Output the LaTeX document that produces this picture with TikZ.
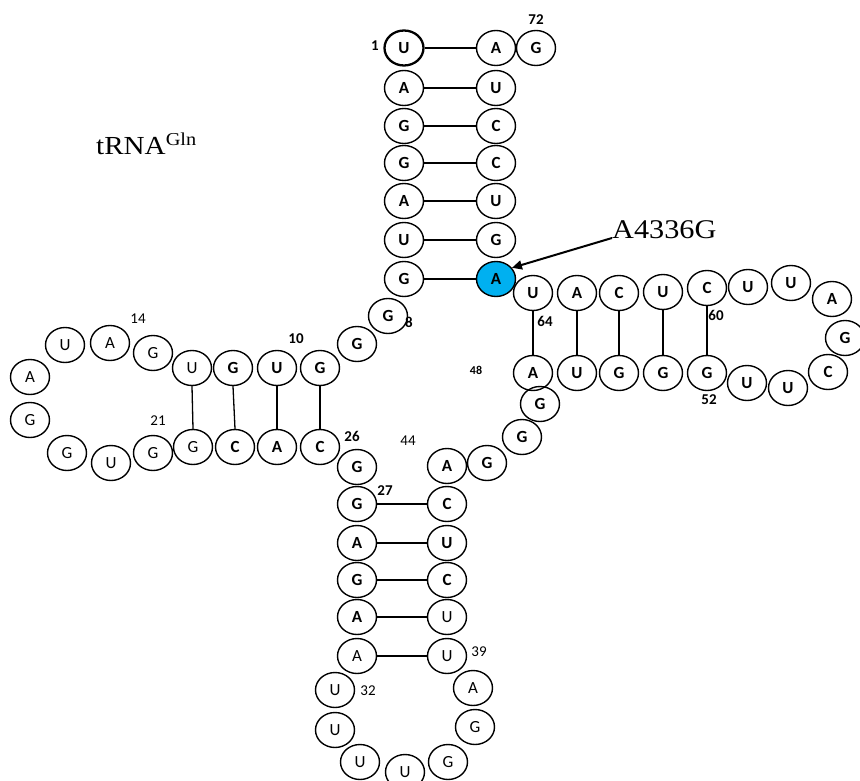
\documentclass[tikz,border=0pt]{standalone}
\usepackage{fontspec}
\setmainfont{Carlito}
\newfontfamily\tnrfont{Liberation Serif}[FakeStretch=1.12]
\usetikzlibrary{shapes.geometric,arrows.meta}
\newcommand\ntfont{\fontsize{17}{19}\selectfont}
\newcommand\lbfont{\fontsize{15}{17}\selectfont}
\definecolor{mutblue}{HTML}{00B0F0}
\begin{document}
\begin{tikzpicture}[x=1pt,y=-1pt,
  nt/.style={ellipse, draw, line width=1.4pt, minimum width=39pt, minimum height=35pt, inner sep=0pt, font=\ntfont},
  ntb/.style={nt, font=\ntfont\bfseries},
  num/.style={inner sep=0pt, font=\lbfont},
  numb/.style={inner sep=0pt, font=\lbfont\bfseries},
  bp/.style={line width=1.3pt},
  mutarrow/.style={line width=2pt, -{Triangle[length=10pt,width=9pt]}}]
\useasboundingbox (0,0) rectangle (860,781);
% acceptor stem 5'
\node[ntb, line width=2.3pt] (n1) at (404,48) {U};
\node[ntb] (n2) at (404,88) {A};
\node[ntb] (n3) at (404,126) {G};
\node[ntb] (n4) at (404,163) {G};
\node[ntb] (n5) at (404,201) {A};
\node[ntb] (n6) at (404,240) {U};
\node[ntb] (n7) at (404,279) {G};
\node[ntb] (n8) at (388,316) {G};
\node[ntb] (n9) at (357,344) {G};
% D arm
\node[ntb] (n10) at (320,368) {G};
\node[ntb] (n11) at (277,368) {U};
\node[ntb] (n12) at (233,368) {G};
\node[nt] (n13) at (192,368) {U};
\node[nt] (n14) at (153,353) {G};
\node[nt] (n15) at (110,343) {A};
\node[nt] (n16) at (65,345) {U};
\node[nt] (n17) at (30,377) {A};
\node[nt] (n18) at (30,420) {G};
\node[nt] (n19) at (67,453) {G};
\node[nt] (n20) at (111,463) {U};
\node[nt] (n21) at (153,453) {G};
\node[nt] (n22) at (193,447) {G};
\node[ntb] (n23) at (235,447) {C};
\node[ntb] (n24) at (277,447) {A};
\node[ntb] (n25) at (320,447) {C};
% anticodon arm
\node[ntb] (n26) at (357,467) {G};
\node[ntb] (n27) at (357,504) {G};
\node[ntb] (n28) at (357,543) {A};
\node[ntb] (n29) at (357,580) {G};
\node[ntb] (n30) at (357,617) {A};
\node[nt] (n31) at (357,656) {A};
\node[nt] (n32) at (335,690) {U};
\node[nt] (n33) at (335,730) {U};
\node[nt] (n34) at (360,762) {U};
\node[nt] (n35) at (405,772) {U};
\node[nt] (n36) at (448,762) {G};
\node[nt] (n37) at (475,727) {G};
\node[nt] (n38) at (473,688) {A};
\node[nt] (n39) at (447,656) {U};
\node[nt] (n40) at (447,617) {U};
\node[ntb] (n41) at (447,580) {C};
\node[ntb] (n42) at (447,543) {U};
\node[ntb] (n43) at (447,504) {C};
\node[ntb] (n44) at (447,466) {A};
\node[ntb] (n45) at (487,463) {G};
\node[ntb] (n46) at (522,437) {G};
\node[ntb] (n47) at (540,404) {G};
% T arm
\node[ntb] (n48) at (533,373) {A};
\node[ntb] (n49) at (577,373) {U};
\node[ntb] (n50) at (619,373) {G};
\node[ntb] (n51) at (663,373) {G};
\node[ntb] (n52) at (707,373) {G};
\node[ntb] (n53) at (747,383) {U};
\node[ntb] (n54) at (788,388) {U};
\node[ntb] (n55) at (828,372) {C};
\node[ntb] (n56) at (845,338) {G};
\node[ntb] (n57) at (832,299) {A};
\node[ntb] (n58) at (791,283) {U};
\node[ntb] (n59) at (748,287) {U};
\node[ntb] (n60) at (707,288) {C};
\node[ntb] (n61) at (663,292) {U};
\node[ntb] (n62) at (619,293) {C};
\node[ntb] (n63) at (577,293) {A};
\node[ntb] (n64) at (533,293) {U};
% acceptor stem 3'
\node[ntb, fill=mutblue] (n65) at (496,279) {A};
\node[ntb] (n66) at (496,240) {G};
\node[ntb] (n67) at (496,201) {U};
\node[ntb] (n68) at (496,163) {C};
\node[ntb] (n69) at (496,126) {C};
\node[ntb] (n70) at (496,88) {U};
\node[ntb] (n71) at (496,48) {A};
\node[ntb] (n72) at (536,48) {G};
% base pairs
\foreach \a/\b in {1/71,2/70,3/69,4/68,5/67,6/66,7/65,27/43,28/42,29/41,30/40,31/39}
  \draw[bp] (n\a) -- (n\b);
\foreach \a/\b in {10/25,11/24,12/23,13/22,64/48,63/49,62/50,61/51,60/52}
  \draw[bp] (n\a.south) -- (n\b.north);
% numbers
\node[numb] (l1) at (375,46) {1};
\node[numb] (l72) at (536,20) {72};
\node[numb] (l8) at (409,322) {8};
\node[numb] (l10) at (296,339) {10};
\node[num] (l14) at (138,319) {14};
\node[num] (l21) at (158,421) {21};
\node[numb] (l26) at (352,436) {26};
\node[numb] (l27) at (385,491) {27};
\node[num] (l44) at (408,441) {44};
\node[num] (l32) at (368,691) {32};
\node[num] (l39) at (479,652) {39};
\node[numb, font=\fontsize{12}{13}\selectfont\bfseries] (l48) at (476,370) {48};
\node[numb] (l64) at (545,321) {64};
\node[numb] (l60) at (716,315) {60};
\node[numb] (l52) at (709,400) {52};
% titles
\node[anchor=base west, inner sep=0pt, font=\tnrfont\fontsize{26}{29}\selectfont] (title) at (96,155) {tRNA\textsuperscript{Gln}};
\node[anchor=base west, inner sep=0pt, font=\tnrfont\fontsize{27}{30}\selectfont] (mut) at (612,238) {A4336G};
\draw[mutarrow] (mut.base west) -- (n65.35);
\end{tikzpicture}
\end{document}
